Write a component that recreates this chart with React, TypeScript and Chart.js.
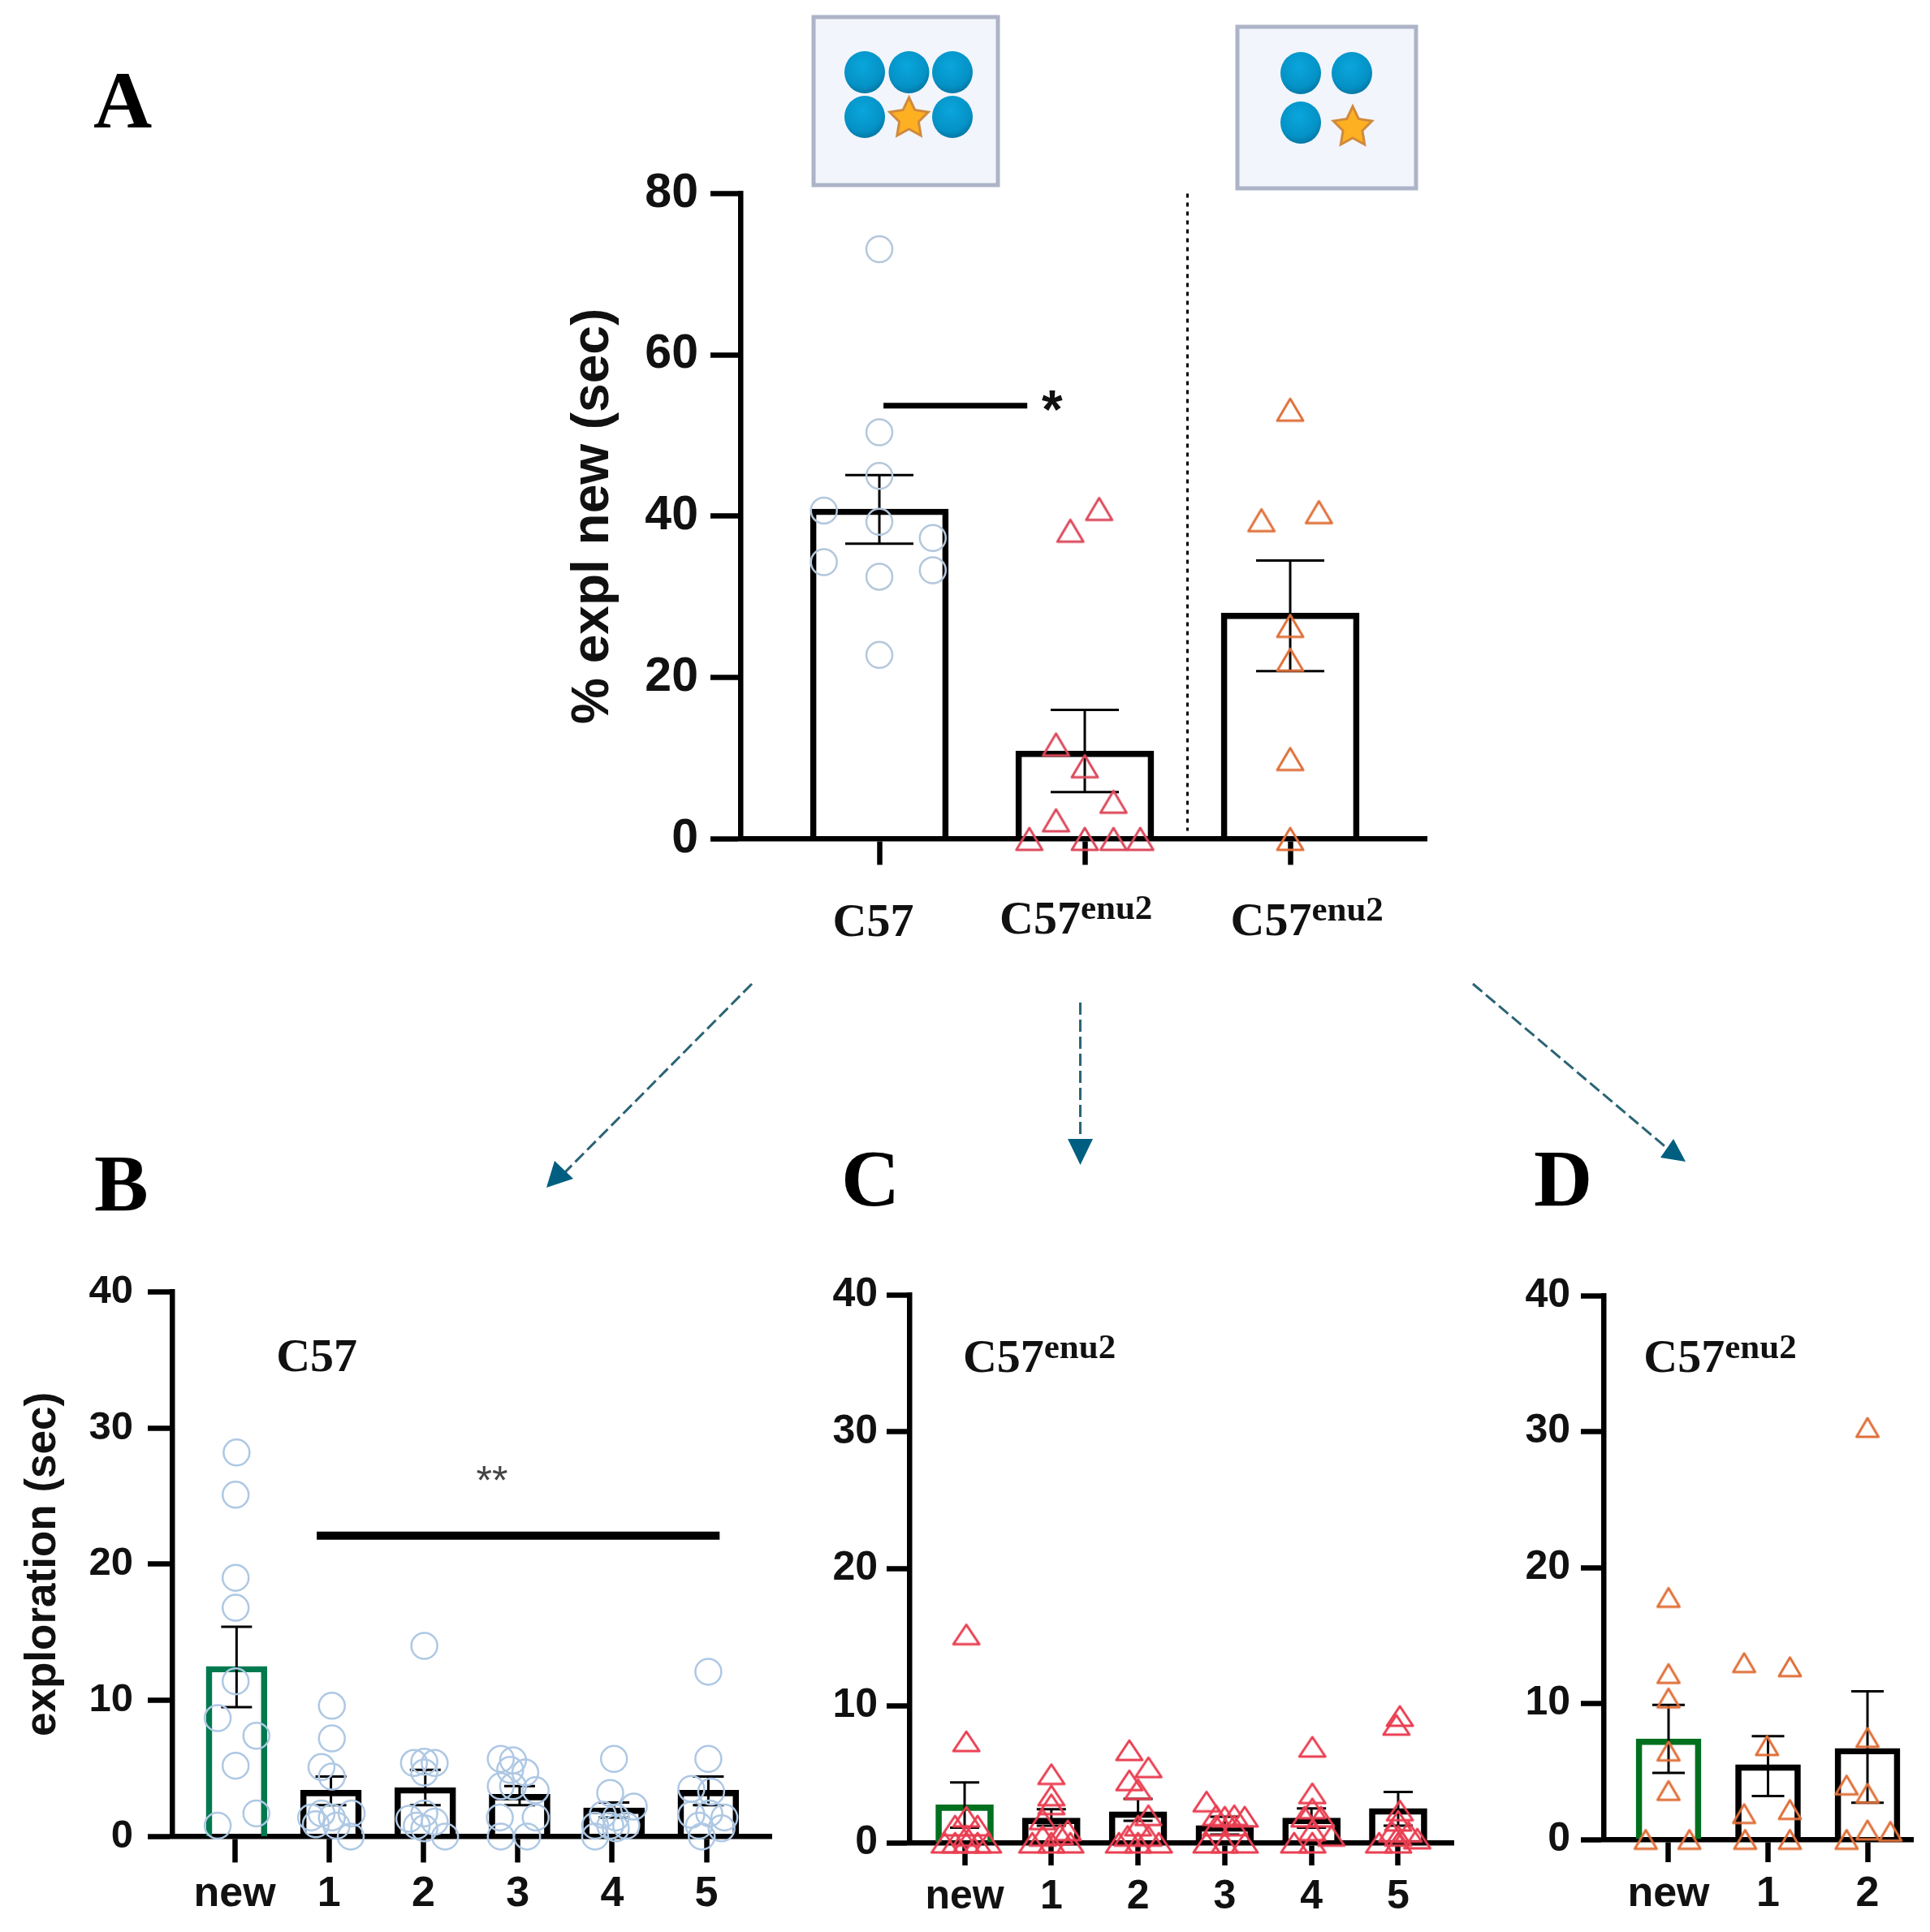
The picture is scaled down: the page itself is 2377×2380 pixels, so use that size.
import React, { useEffect, useRef } from "react";
import { Chart, registerables } from "chart.js";

Chart.register(...registerables);

const INK = "#000000";
const SERIF = '"Liberation Serif", serif';
const SANS = '"Liberation Sans", Arial, sans-serif';

// Panel A
const aTickLabels = ["C57", "C57", "C57"];
const aTickSups = ["", "enu2", "enu2"];
const aMeans = [40.9, 10.9, 28];
const aErrTop = [45.1, 16, 34.5];
const aErrBottom = [36.6, 5.8, 20.8];
const aPoints = [
  [[0, 73.1], [0, 50.4], [0, 45], [-0.27, 40.7], [0, 39.3], [0.26, 37.3], [-0.27, 34.3], [0.26, 33.3], [0, 32.5], [0, 22.8]],
  [[0.07, 40.9], [-0.07, 38.2], [-0.14, 11.7], [0, 9], [0.14, 4.6], [-0.14, 2.3], [-0.27, 0], [0, 0], [0.14, 0], [0.27, 0]],
  [[0, 53.2], [-0.14, 39.5], [0.14, 40.5], [0, 26.4], [0, 22.2], [0, 9.9], [0, 0]],
];

// Panel B
const sessionLabels = ["new", "1", "2", "3", "4", "5"];
const bMeans = [12.5, 3.4, 3.6, 3.1, 2.1, 3.4];
const bErrTop = [15.4, 4.4, 4.9, 3.7, 2.5, 4.4];
const bErrBottom = [9.5, 2.3, 2.3, 2.3, 1.4, 2.3];
const bPoints = [
  [[0.02, 28.2], [0.01, 25.1], [0.01, 19], [0.01, 16.8], [0.01, 11.4], [-0.18, 8.7], [0.23, 7.4], [0.01, 5.2], [0.23, 1.7], [-0.18, 0.8]],
  [[0.03, 9.6], [0.03, 7.2], [-0.08, 5.1], [0.03, 4.4], [-0.19, 1.4], [-0.08, 1.7], [0.03, 1.4], [0.24, 1.7], [-0.14, 0.9], [0.08, 0.8], [0.23, 0]],
  [[0.01, 14], [-0.1, 5.4], [0.01, 5.5], [0.12, 5.4], [0.01, 4.7], [-0.15, 1.3], [0.01, 1.7], [0.12, 1.1], [-0.07, 0.8], [0.23, 0], [0.01, 0.6]],
  [[-0.18, 5.7], [-0.05, 5.6], [0.08, 4.7], [-0.08, 4.9], [-0.18, 3.7], [-0.05, 3.7], [0.19, 3.4], [-0.19, 1.4], [0.19, 1.4], [-0.18, 0], [0.1, 0]],
  [[0.02, 5.7], [-0.02, 3.2], [0.23, 2.2], [-0.1, 1.6], [0.04, 1.4], [-0.18, 0.8], [0.15, 0.8], [-0.02, 0.8], [-0.18, 0], [0.04, 0.6]],
  [[0.02, 12.1], [0.02, 5.7], [-0.16, 3.5], [0.05, 3.3], [-0.16, 1.6], [0.03, 1.7], [0.19, 1.4], [-0.08, 0.8], [0.16, 0.6], [-0.05, 0]],
];

// Panel C
const cMeans = [2.76, 1.8, 2.26, 1.25, 1.8, 2.5];
const cErrTop = [4.4, 2.45, 3.2, 1.9, 2.5, 3.7];
const cErrBottom = [1.1, 1.25, 1.6, 0.6, 1.1, 1.25];
const cPoints = [
  [[0.02, 15.2], [0.02, 7.4], [0.02, 1.9], [-0.11, 1.25], [0.15, 1.25], [0.02, 0.5], [-0.11, 0], [-0.23, 0], [0.02, 0], [0.15, 0], [0.27, 0]],
  [[0, 5], [0, 3.45], [0, 2.8], [-0.1, 1.7], [0.19, 0.9], [0.1, 0.6], [-0.1, 0.5], [-0.22, 0], [0, 0], [0.22, 0]],
  [[-0.1, 6.75], [0.12, 5.5], [-0.1, 4.55], [0, 3.9], [0.12, 2], [0, 1.25], [-0.12, 0.5], [0.12, 0.5], [-0.22, 0], [0, 0], [0.24, 0]],
  [[-0.21, 3], [-0.1, 2], [0.11, 2], [0, 1.9], [0.23, 1.9], [-0.1, 1.25], [0.11, 1.25], [-0.21, 0], [0, 0], [0.23, 0]],
  [[0.01, 7], [0.01, 3.6], [0.01, 2.5], [-0.08, 1.9], [0.11, 1.9], [0.01, 0.9], [-0.2, 0], [0.01, 0], [0.23, 0.5]],
  [[0.02, 9.25], [-0.02, 8.6], [0.02, 2.35], [0, 1.6], [-0.07, 0.8], [0.12, 0.8], [0, 0.5], [-0.22, 0], [0, 0], [0.22, 0.3]],
];

// Panel D
const dLabels = ["new", "1", "2"];
const dMeans = [7.4, 5.5, 6.7];
const dErrTop = [9.9, 7.6, 10.9];
const dErrBottom = [4.9, 3.2, 2.7];
const dPoints = [
  [[0, 17.8], [0, 12.2], [0, 10.4], [0, 6.5], [0, 3.6], [-0.23, 0], [0.21, 0]],
  [[-0.24, 13], [0.22, 12.7], [-0.01, 6.9], [-0.24, 1.9], [0.22, 2.2], [-0.23, 0], [0.22, 0]],
  [[0, 30.3], [0, 7.5], [-0.21, 4], [0, 3.4], [-0.21, 0], [0, 0.7], [0.23, 0.6]],
];

function triangleImage(color: string, w: number, h: number, lw: number) {
  const c = document.createElement("canvas");
  c.width = Math.ceil(w + lw * 2 + 4);
  c.height = Math.ceil(h + lw * 2 + 4);
  const g = c.getContext("2d")!;
  const cx = c.width / 2;
  const cy = c.height / 2;
  g.strokeStyle = color;
  g.lineWidth = lw;
  g.lineJoin = "round";
  g.beginPath();
  g.moveTo(cx, cy - h / 2);
  g.lineTo(cx + w / 2, cy + h / 2);
  g.lineTo(cx - w / 2, cy + h / 2);
  g.closePath();
  g.stroke();
  return c;
}

type Note = { text: string; sup?: string; x: number; y: number; font: string; supFont?: string; rise?: number; color?: string };

function notesPlugin(notes: Note[]) {
  return {
    id: "panelNotes",
    afterDatasetsDraw(chart: any) {
      const { ctx, scales } = chart;
      ctx.save();
      ctx.textAlign = "left";
      ctx.textBaseline = "alphabetic";
      for (const n of notes) {
        const px = scales.x.getPixelForValue(n.x);
        const py = scales.y.getPixelForValue(n.y);
        ctx.fillStyle = n.color || "#111";
        ctx.font = n.font;
        ctx.fillText(n.text, px, py);
        if (n.sup) {
          const w = ctx.measureText(n.text).width;
          ctx.font = n.supFont;
          ctx.fillText(n.sup, px + w, py - (n.rise || 0));
        }
      }
      ctx.restore();
    },
  };
}

type PanelSpec = {
  pageTop: number; width: number; height: number;
  areaLeft: number; areaTop: number; areaRight: number; areaBottom: number;
  xMin: number; xMax: number; yMax: number; yStep: number;
  labels: string[]; showXLabels: boolean;
  means: number[]; errTop: number[]; errBottom: number[]; points: number[][][];
  barWidth: number; barBorder: number; barColors: string[]; barShift?: number;
  capRadius: number; errWidth: number;
  pointStyle: any; pointRadius: number; pointColor: string;
  yFont: number; xFont: number; yPad: number; xPad: number;
  yTick: number; xTick: number; axisWidth: number;
  title?: string; titleFont?: number;
  extra?: any[]; notes: Note[];
};

function buildChart(canvas: HTMLCanvasElement, s: PanelSpec) {
  const shift = s.barShift || 0;
  const errData: any[] = [];
  s.means.forEach((_, i) => {
    errData.push({ x: i + shift, y: s.errBottom[i] }, { x: i + shift, y: s.errTop[i] }, { x: i + shift, y: null });
  });
  const scatterData: any[] = [];
  s.points.forEach((group, i) => {
    group.forEach(([off, v]) => scatterData.push({ x: i + off, y: v }));
  });
  const fit = { w: s.areaLeft, h: s.height - s.areaBottom };
  const chart = new Chart(canvas, {
    data: {
      datasets: [
        {
          type: "bar",
          data: s.means.map((v, i) => ({ x: i + shift, y: v })),
          backgroundColor: "rgba(0,0,0,0)",
          borderColor: s.barColors,
          borderWidth: s.barBorder,
          borderSkipped: "bottom",
          barThickness: s.barWidth,
          order: 5,
        },
        {
          type: "line",
          data: errData,
          borderColor: INK,
          borderWidth: s.errWidth,
          pointStyle: "line",
          pointRadius: s.capRadius,
          pointBorderColor: INK,
          pointBorderWidth: s.errWidth,
          spanGaps: false,
          clip: false,
          order: 4,
        },
        {
          type: "scatter",
          data: scatterData,
          pointStyle: s.pointStyle,
          pointRadius: s.pointRadius,
          pointBorderWidth: 2.5,
          pointBorderColor: s.pointColor,
          pointBackgroundColor: "rgba(0,0,0,0)",
          clip: false,
          order: 3,
        },
        ...(s.extra || []),
      ],
    } as any,
    options: {
      animation: false,
      responsive: false,
      devicePixelRatio: 1,
      layout: {
        autoPadding: false,
        padding: { left: 0, top: s.areaTop, right: s.width - s.areaRight, bottom: 0 },
      },
      plugins: { legend: { display: false }, tooltip: { enabled: false } },
      scales: {
        x: {
          type: "linear",
          offset: false,
          min: s.xMin,
          max: s.xMax,
          afterBuildTicks: (sc: any) => {
            sc.ticks = s.labels.map((_, i) => ({ value: i }));
          },
          afterFit: (sc: any) => {
            sc.height = fit.h;
          },
          border: { display: true, color: INK, width: s.axisWidth },
          grid: {
            offset: false,
            drawOnChartArea: false,
            color: INK,
            tickColor: INK,
            tickLength: s.xTick,
            tickWidth: s.axisWidth,
          },
          ticks: {
            display: s.showXLabels,
            autoSkip: false,
            maxRotation: 0,
            minRotation: 0,
            padding: s.xPad,
            color: "#111",
            font: { family: SANS, size: s.xFont, weight: "bold" },
            callback: (v: any) => s.labels[v as number],
          },
        },
        y: {
          type: "linear",
          min: 0,
          max: s.yMax,
          afterFit: (sc: any) => {
            sc.width = fit.w;
          },
          border: { display: true, color: INK, width: s.axisWidth },
          grid: {
            drawOnChartArea: false,
            color: INK,
            tickColor: INK,
            tickLength: s.yTick,
            tickWidth: s.axisWidth,
          },
          ticks: {
            stepSize: s.yStep,
            padding: s.yPad,
            color: "#111",
            font: { family: SANS, size: s.yFont, weight: "bold" },
          },
          title: s.title
            ? {
                display: true,
                text: s.title,
                color: "#111",
                padding: 0,
                font: { family: SANS, size: s.titleFont, weight: "bold" },
              }
            : { display: false },
        },
      },
    } as any,
    plugins: [notesPlugin(s.notes)] as any,
  });

  // The layout keeps room above the plot for the top tick label, so the canvas is slid
  // upward and the x-axis box resized until the y axis spans the reference's range.
  let offset = 0;
  for (let k = 0; k < 5; k++) {
    const yS: any = chart.scales.y;
    const top = yS.getPixelForValue(s.yMax);
    const bottom = yS.getPixelForValue(0);
    const wantedTop = s.areaTop + offset;
    const delta = top - wantedTop;
    offset += delta;
    const wantedBottom = s.areaBottom + offset;
    const db = bottom - wantedBottom;
    if (Math.abs(delta) < 0.4 && Math.abs(db) < 0.4) break;
    fit.h += db;
    canvas.style.top = `${s.pageTop - offset}px`;
    chart.update();
  }
  return chart;
}

function starPath(cx: number, cy: number, rx: number, ry: number) {
  const pts: string[] = [];
  for (let i = 0; i < 10; i++) {
    const a = -Math.PI / 2 + (i * Math.PI) / 5;
    const k = i % 2 === 0 ? 1 : 0.5;
    pts.push(`${(cx + Math.cos(a) * rx * k).toFixed(1)},${(cy + Math.sin(a) * ry * k).toFixed(1)}`);
  }
  return pts.join(" ");
}

function Dot({ cx, cy }: { cx: number; cy: number }) {
  return <ellipse cx={cx} cy={cy} rx={25} ry={26} fill="url(#ball)" />;
}

function Decor() {
  const teal = "#2a6475";
  const head = "#005f80";
  const letter = { fontFamily: SERIF, fontWeight: 700, fontSize: 100, fill: "#000" } as const;
  return (
    <svg width={2377} height={2380} style={{ position: "absolute", left: 0, top: 0 }}>
      <defs>
        <radialGradient id="ball" cx="45%" cy="35%" r="70%">
          <stop offset="0%" stopColor="#0aa6dc" />
          <stop offset="70%" stopColor="#0492c6" />
          <stop offset="100%" stopColor="#04709c" />
        </radialGradient>
      </defs>
      <rect x={1002} y={21} width={227} height={207} fill="#f2f5fb" stroke="#adb4c7" strokeWidth={5} />
      <rect x={1524} y={33} width={220} height={199} fill="#f2f5fb" stroke="#adb4c7" strokeWidth={5} />
      <Dot cx={1065} cy={89} />
      <Dot cx={1119.5} cy={89} />
      <Dot cx={1173} cy={89} />
      <Dot cx={1065} cy={144} />
      <Dot cx={1173} cy={144} />
      <polygon points={starPath(1119.5, 146, 25, 26)} fill="#fdb022" stroke="#d08a3c" strokeWidth={3} />
      <Dot cx={1602} cy={90} />
      <Dot cx={1665} cy={90} />
      <Dot cx={1602} cy={151} />
      <polygon points={starPath(1666, 157, 25, 26)} fill="#fdb022" stroke="#d08a3c" strokeWidth={3} />

      <line x1={926} y1={1212} x2={690} y2={1450} stroke={teal} strokeWidth={3} strokeDasharray="15 6" />
      <polygon points="673,1463 683,1430 706,1452" fill={head} />
      <line x1={1330.5} y1={1235} x2={1330.5} y2={1404} stroke={teal} strokeWidth={3} strokeDasharray="15 6" />
      <polygon points="1315,1403 1346,1403 1330.5,1435" fill={head} />
      <line x1={1814} y1={1212} x2={2055} y2={1416} stroke={teal} strokeWidth={3} strokeDasharray="15 6" />
      <polygon points="2076,1431 2045,1426 2061,1403" fill={head} />

      <text x={115} y={157} style={letter}>A</text>
      <text x={116} y={1491} style={letter}>B</text>
      <text x={1036} y={1485} style={letter}>C</text>
      <text x={1889} y={1485} style={letter}>D</text>
    </svg>
  );
}

export default function App() {
  const aRef = useRef<HTMLCanvasElement>(null);
  const bRef = useRef<HTMLCanvasElement>(null);
  const cRef = useRef<HTMLCanvasElement>(null);
  const dRef = useRef<HTMLCanvasElement>(null);

  useEffect(() => {
    const circle = "#aec8e4";
    const red = "#ea3f52";
    const orange = "#e0703a";
    const redA = triangleImage("#dc4a5c", 32, 27, 3);
    const redC = triangleImage(red, 32, 24, 3);
    const orangeA = triangleImage(orange, 32, 27, 3);
    const orangeD = triangleImage(orange, 27, 23, 3);

    const serifBold = `bold 58px ${SERIF}`;
    const supBold = `bold 43px ${SERIF}`;

    const sigLine = (pts: number[][], width: number) => ({
      type: "line",
      data: pts.map(([x, y]) => ({ x, y })),
      borderColor: INK,
      borderWidth: width,
      pointRadius: 0,
      clip: false,
      order: 1,
    });

    const specA: PanelSpec = {
      pageTop: 200, width: 1084, height: 1000,
      areaLeft: 219, areaTop: 38, areaRight: 1064, areaBottom: 833,
      xMin: -0.676, xMax: 2.664, yMax: 80, yStep: 20,
      labels: aTickLabels, showXLabels: false,
      means: aMeans, errTop: aErrTop, errBottom: aErrBottom, points: [aPoints[0]],
      barWidth: 170, barBorder: 7, barColors: [INK, INK, INK],
      capRadius: 42, errWidth: 3,
      pointStyle: "circle", pointRadius: 16, pointColor: "#b4c7dc",
      yFont: 59, xFont: 50, yPad: 15, xPad: 10, yTick: 37, xTick: 32, axisWidth: 6.5,
      title: "% expl new (sec)", titleFont: 64,
      extra: [
        sigLine([[0.02, 53.7], [0.72, 53.7]], 7),
        { ...sigLine([[1.5, 80], [1.5, 1]], 3), borderDash: [5, 6] },
        {
          type: "scatter",
          data: aPoints[1].map(([o, v]) => ({ x: 1 + o, y: v })),
          pointStyle: redA, pointRadius: 16, clip: false, order: 3,
        },
        {
          type: "scatter",
          data: aPoints[2].map(([o, v]) => ({ x: 2 + o, y: v })),
          pointStyle: orangeA, pointRadius: 16, clip: false, order: 3,
        },
      ],
      notes: [
        { text: aTickLabels[0], x: 0 - 57.5 / 253, y: -12.0, font: serifBold },
        { text: aTickLabels[1], sup: aTickSups[1], x: 1 - 105 / 253, y: -11.7, font: serifBold, supFont: supBold, rise: 18 },
        { text: aTickLabels[2], sup: aTickSups[2], x: 2 - 73.5 / 253, y: -11.9, font: serifBold, supFont: supBold, rise: 18 },
        { text: "*", x: 0.79, y: 51, font: `bold 66px ${SANS}` },
      ],
    };

    const specB: PanelSpec = {
      pageTop: 1560, width: 948, height: 820,
      areaLeft: 190, areaTop: 31, areaRight: 928, areaBottom: 702,
      xMin: -0.663, xMax: 5.688, yMax: 40, yStep: 10,
      labels: sessionLabels, showXLabels: true,
      means: bMeans, errTop: bErrTop, errBottom: bErrBottom, points: bPoints,
      barWidth: 75, barBorder: 7, barColors: ["#00794f", INK, INK, INK, INK, INK], barShift: 0.02,
      capRadius: 19, errWidth: 3,
      pointStyle: "circle", pointRadius: 16, pointColor: circle,
      yFont: 49, xFont: 52, yPad: 18, xPad: 8, yTick: 30, xTick: 32, axisWidth: 6.5,
      title: "exploration (sec)", titleFont: 53,
      extra: [sigLine([[0.87, 22.1], [5.14, 22.1]], 10)],
      notes: [
        { text: "C57", x: 0.44, y: 34.2, font: serifBold },
        { text: "**", x: 2.56, y: 25.1, font: `50px ${SANS}`, color: "#444" },
      ],
    };

    const specC: PanelSpec = {
      pageTop: 1560, width: 810, height: 820,
      areaLeft: 120, areaTop: 35, areaRight: 790, areaBottom: 710,
      xMin: -0.637, xMax: 5.637, yMax: 40, yStep: 10,
      labels: sessionLabels, showXLabels: true,
      means: cMeans, errTop: cErrTop, errBottom: cErrBottom, points: cPoints,
      barWidth: 71, barBorder: 7, barColors: ["#00701f", INK, INK, INK, INK, INK],
      capRadius: 18, errWidth: 3,
      pointStyle: redC, pointRadius: 16, pointColor: red,
      yFont: 50, xFont: 50, yPad: 11, xPad: 9, yTick: 28, xTick: 28, axisWidth: 6.5,
      notes: [{ text: "C57", sup: "enu2", x: -0.02, y: 34.4, font: serifBold, supFont: supBold, rise: 17 }],
    };

    const specD: PanelSpec = {
      pageTop: 1560, width: 527, height: 820,
      areaLeft: 125, areaTop: 36, areaRight: 506, areaBottom: 706,
      xMin: -0.653, xMax: 2.457, yMax: 40, yStep: 10,
      labels: dLabels, showXLabels: true,
      means: dMeans, errTop: dErrTop, errBottom: dErrBottom, points: dPoints,
      barWidth: 80, barBorder: 7, barColors: ["#00701f", INK, INK],
      capRadius: 20, errWidth: 3,
      pointStyle: orangeD, pointRadius: 14, pointColor: orange,
      yFont: 50, xFont: 52, yPad: 13, xPad: 8, yTick: 28, xTick: 28, axisWidth: 6.5,
      notes: [{ text: "C57", sup: "enu2", x: -0.25, y: 34.4, font: serifBold, supFont: supBold, rise: 17 }],
    };

    const charts = [
      buildChart(aRef.current!, specA),
      buildChart(bRef.current!, specB),
      buildChart(cRef.current!, specC),
      buildChart(dRef.current!, specD),
    ];
    return () => charts.forEach((c) => c.destroy());
  }, []);

  const cv = (left: number, top: number): React.CSSProperties => ({ position: "absolute", left, top, display: "block" });

  return (
    <div style={{ position: "absolute", left: 0, top: 0, width: 2377, height: 2380, background: "#fff", overflow: "hidden" }}>
      <Decor />
      <canvas ref={aRef} width={1084} height={1000} style={cv(693, 200)} />
      <canvas ref={bRef} width={948} height={820} style={cv(22, 1560)} />
      <canvas ref={cRef} width={810} height={820} style={cv(1000, 1560)} />
      <canvas ref={dRef} width={527} height={820} style={cv(1850, 1560)} />
    </div>
  );
}
